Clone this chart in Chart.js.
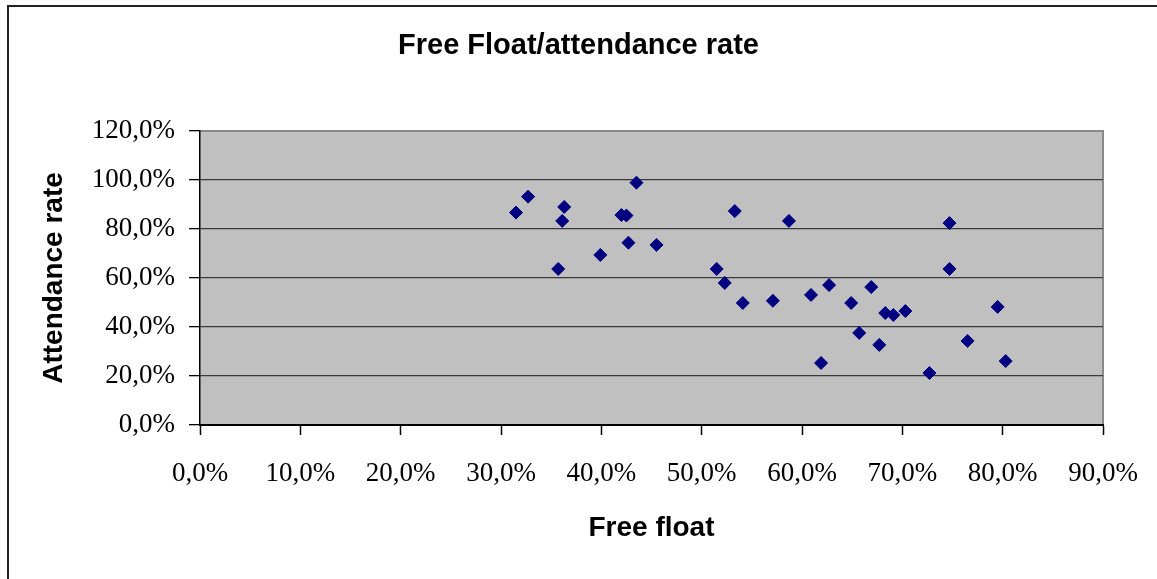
<!DOCTYPE html>
<html>
<head>
<meta charset="utf-8">
<title>Free Float/attendance rate</title>
<script src="https://cdn.jsdelivr.net/npm/chart.js@4.4.1/dist/chart.umd.min.js"></script>
<style>
  html, body { margin: 0; padding: 0; background: #fff; }
  #wrap { position: relative; width: 1157px; height: 579px; }
</style>
</head>
<body>
<div id="wrap"><canvas id="chart" width="1157" height="579"></canvas></div>
<script>
// free float (%) and attendance rate (%) per company
var freeFloat = [31.5, 32.7, 35.7, 36.1, 36.3, 39.9, 42.0, 42.5, 42.7, 43.5, 45.5,
  51.5, 52.3, 53.3, 54.1, 57.1, 58.7, 60.9, 61.9, 62.7, 64.9, 65.7, 66.9, 67.7,
  68.3, 69.1, 70.3, 72.7, 74.7, 74.7, 76.5, 79.5, 80.3];
var attendance = [86.7, 93.2, 63.7, 83.3, 89.0, 69.4, 85.7, 85.5, 74.4, 98.9, 73.5,
  63.7, 58.0, 87.3, 49.8, 50.7, 83.3, 53.1, 25.3, 57.1, 49.8, 37.6, 56.3, 32.7,
  45.7, 44.9, 46.5, 21.2, 82.4, 63.7, 34.3, 48.2, 26.1];
var xTicks = { min: 0, max: 90, step: 10 };
var yTicks = { min: 0, max: 120, step: 20 };

function pct(v) {
  return v.toFixed(1).replace('.', ',') + '%';
}

var points = freeFloat.map(function(x, i) {
  return { x: x, y: attendance[i] };
});

// grey plot area + outer frame
var plotBg = {
  id: 'plotBg',
  beforeDraw: function(chart) {
    var ctx = chart.ctx, a = chart.chartArea;
    ctx.save();
    ctx.strokeStyle = '#222';
    ctx.lineWidth = 2;
    ctx.beginPath();
    ctx.moveTo(8, 600);
    ctx.lineTo(8, 6);
    ctx.lineTo(1160, 6);
    ctx.stroke();
    ctx.fillStyle = '#c0c0c0';
    ctx.fillRect(a.left, a.top, a.right - a.left, a.bottom - a.top);
    ctx.strokeStyle = '#8a8a8a';
    ctx.lineWidth = 2;
    ctx.beginPath();
    ctx.moveTo(a.left, a.top);
    ctx.lineTo(a.right, a.top);
    ctx.lineTo(a.right, a.bottom);
    ctx.stroke();
    ctx.restore();
  }
};

var serif = { family: '"Liberation Serif", "Times New Roman", serif', size: 27 };
var bold = '"Liberation Sans", Arial, sans-serif';

new Chart(document.getElementById('chart'), {
  type: 'scatter',
  data: {
    datasets: [{
      label: 'Attendance rate',
      data: points,
      pointStyle: 'rectRot',
      pointRadius: 6.5,
      pointBorderWidth: 1,
      backgroundColor: '#000080',
      borderColor: '#000080'
    }]
  },
  options: {
    responsive: false,
    animation: false,
    devicePixelRatio: 1,
    layout: { padding: 0 },
    plugins: {
      legend: { display: false },
      tooltip: { enabled: false },
      title: {
        display: true,
        text: 'Free Float/attendance rate',
        color: '#000',
        font: { family: bold, size: 29, weight: 'bold' },
        padding: { top: 29, bottom: 67.2 }
      }
    },
    scales: {
      x: {
        type: 'linear',
        min: xTicks.min,
        max: xTicks.max,
        afterFit: function(s) {
          s.height = 154;
          s.paddingLeft = 0;
          s.paddingRight = 54;
        },
        ticks: {
          stepSize: xTicks.step,
          color: '#000',
          font: serif,
          padding: 23,
          maxRotation: 0,
          callback: function(v) { return pct(v); }
        },
        grid: {
          drawOnChartArea: false,
          drawTicks: true,
          tickLength: 10,
          tickColor: '#000',
          tickWidth: 1.5
        },
        border: { display: true, color: '#000', width: 2 },
        title: {
          display: true,
          text: 'Free float',
          color: '#000',
          font: { family: bold, size: 28, weight: 'bold' },
          padding: { top: 0, bottom: 34 }
        }
      },
      y: {
        type: 'linear',
        min: yTicks.min,
        max: yTicks.max,
        afterFit: function(s) { s.width = 200; },
        ticks: {
          stepSize: yTicks.step,
          color: '#000',
          font: serif,
          padding: 14,
          callback: function(v) { return pct(v); }
        },
        grid: {
          color: function(c) {
            return c.tick && c.tick.value === yTicks.max ? '#8a8a8a' : '#3a3a3a';
          },
          lineWidth: 1.3,
          drawTicks: true,
          tickLength: 11,
          tickColor: '#000',
          tickWidth: 1.3
        },
        border: { display: true, color: '#000', width: 1.5 },
        title: {
          display: true,
          text: 'Attendance rate',
          color: '#000',
          font: { family: bold, size: 28, weight: 'bold' },
          padding: { top: 37, bottom: 0 }
        }
      }
    }
  },
  plugins: [plotBg]
});
</script>
</body>
</html>
